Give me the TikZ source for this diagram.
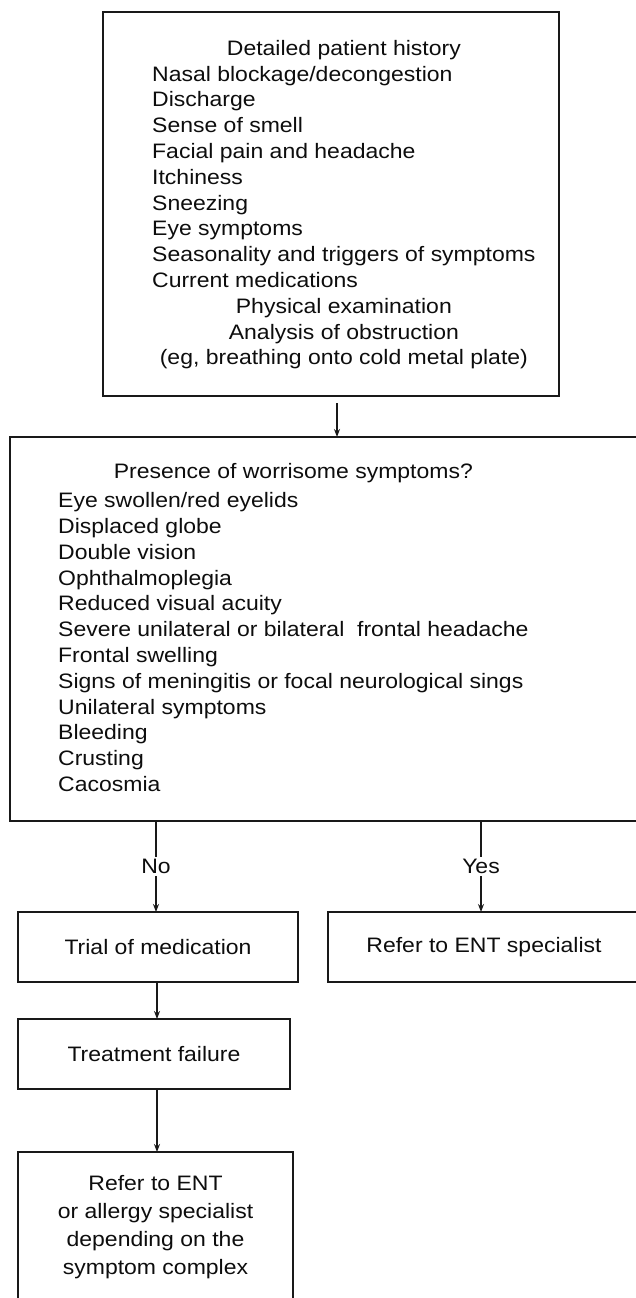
\documentclass[tikz,border=0pt]{standalone}
\usepackage{fontspec}
\setmainfont[FakeStretch=1.1]{Liberation Sans}
\usetikzlibrary{arrows.meta}
\tikzset{
  box/.style={draw=black!90, line width=1.8pt, inner sep=0pt, outer sep=0pt,
    anchor=north west, align=center},
  txt/.style={inner sep=0pt, anchor=west},
  arr/.style={draw=black!90, line width=1.4pt, -{Stealth[length=8pt,width=6pt]}},
}
\begin{document}
\begin{tikzpicture}[x=1pt,y=-1pt,font=\fontsize{20.9}{25.8}\selectfont,text=black!95]
\useasboundingbox (0,0) rectangle (636,1298);
\clip (0,0) rectangle (636,1298);
% boxes
\node[box, minimum width=456pt, minimum height=384pt] (hist) at (103,12) {};
\node[box, minimum width=640pt, minimum height=384pt] (warn) at (10,437) {};
\node[box, minimum width=280pt, minimum height=70pt] (trial) at (18,912) {Trial of medication};
\node[box, minimum width=312pt, minimum height=70pt] (ent) at (328,912) {Refer to ENT specialist};
\node[box, minimum width=272pt, minimum height=70pt] (fail) at (18,1019) {Treatment failure};
\node[box, minimum width=275pt, minimum height=150pt,
  font=\fontsize{20.9}{28.2}\selectfont] (refer) at (18,1152)
  {Refer to ENT\\or allergy specialist\\depending on the\\symptom complex};
% box texts
\node[txt] (histtext) at (152,205) {\begin{tabular}{@{}l@{}}
  \multicolumn{1}{c}{Detailed patient history}\\
  Nasal blockage/decongestion\\
  Discharge\\
  Sense of smell\\
  Facial pain and headache\\
  Itchiness\\
  Sneezing\\
  Eye symptoms\\
  Seasonality and triggers of symptoms\\
  Current medications\\
  \multicolumn{1}{c}{Physical examination}\\
  \multicolumn{1}{c}{Analysis of obstruction}\\
  \multicolumn{1}{c}{(eg, breathing onto cold metal plate)}
\end{tabular}};
\node[txt] (warntext) at (58,630) {\begin{tabular}{@{}l@{}}
  \multicolumn{1}{c}{Presence of worrisome symptoms?}\\[3pt]
  Eye swollen/red eyelids\\
  Displaced globe\\
  Double vision\\
  Ophthalmoplegia\\
  Reduced visual acuity\\
  Severe unilateral or bilateral\ \ frontal headache\\
  Frontal swelling\\
  Signs of meningitis or focal neurological sings\\
  Unilateral symptoms\\
  Bleeding\\
  Crusting\\
  Cacosmia
\end{tabular}};
% connectors
\draw[arr, shorten <=7pt] ([xshift=6pt]hist.south) -- ([xshift=6pt]hist.south |- warn.north);
\draw[arr] ([xshift=-2pt]trial.north |- warn.south) -- node[fill=white, inner sep=2pt] (no) {No} ([xshift=-2pt]trial.north);
\draw[arr] ([xshift=-3pt]ent.north |- warn.south) -- node[fill=white, inner sep=2pt] (yes) {Yes} ([xshift=-3pt]ent.north);
\draw[arr] ([xshift=-1pt]trial.south) -- ([xshift=-1pt]trial.south |- fail.north);
\draw[arr] ([xshift=-1pt]trial.south |- fail.south) -- ([xshift=-1pt]trial.south |- refer.north);
\end{tikzpicture}
\end{document}
